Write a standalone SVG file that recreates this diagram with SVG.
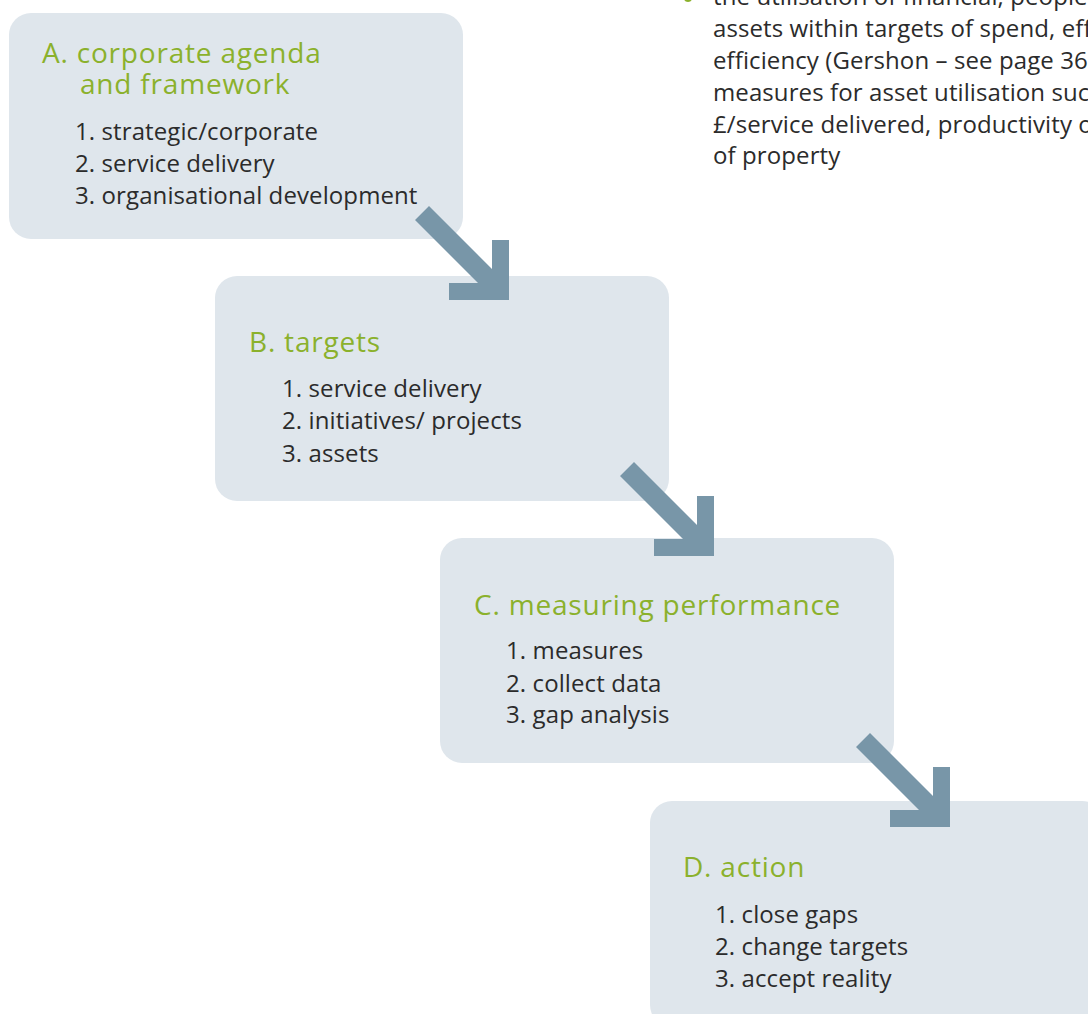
<svg xmlns="http://www.w3.org/2000/svg" xmlns:xlink="http://www.w3.org/1999/xlink" width="1088" height="1014" viewBox="0 0 1088 1014">
<style>
.box{fill:#dfe6ec}
.title{font-family:"Open Sans","Noto Sans",sans-serif;font-size:28px;letter-spacing:0.8px;fill:#8bb12c}
.item{font-family:"Open Sans","Noto Sans",sans-serif;font-size:24px;letter-spacing:0.1px;fill:#2b2b2b}
.arrow{fill:#7896a8}
</style>
<defs>
<path id="arr" d="M-80,-94 L-17,-31 L-17,-60 L0,-60 L0,0 L-60,0 L-60,-17 L-31,-17 L-94,-80 Z"/>
</defs>
<rect width="1088" height="1014" fill="#ffffff"/>
<g id="note">
<circle cx="688" cy="-2" r="4" fill="#8bb12c"/>
<text class="item"><tspan x="713" y="5">the utilisation of financial, people</tspan><tspan x="713" y="37">assets within targets of spend, effectiveness</tspan><tspan x="713" y="69">efficiency (Gershon – see page 36)</tspan><tspan x="713" y="101">measures for asset utilisation such</tspan><tspan x="713" y="133">£/service delivered, productivity of</tspan><tspan x="713" y="164">of property</tspan></text>
</g>
<g id="nodeA">
<rect class="box" x="9" y="13" width="454" height="226" rx="22"/>
<text class="title"><tspan x="42" y="63">A. corporate agenda</tspan><tspan x="80" y="94">and framework</tspan></text>
<text class="item"><tspan x="75" y="140">1. strategic/corporate</tspan><tspan x="75" y="172">2. service delivery</tspan><tspan x="75" y="204">3. organisational development</tspan></text>
</g>
<g id="nodeB">
<rect class="box" x="215" y="276" width="454" height="225" rx="22"/>
<text class="title" x="249" y="352">B. targets</text>
<text class="item"><tspan x="282" y="397">1. service delivery</tspan><tspan x="282" y="429">2. initiatives/ projects</tspan><tspan x="282" y="462">3. assets</tspan></text>
</g>
<g id="nodeC">
<rect class="box" x="440" y="538" width="454" height="225" rx="22"/>
<text class="title" x="474" y="615">C. measuring performance</text>
<text class="item"><tspan x="506" y="659">1. measures</tspan><tspan x="506" y="692">2. collect data</tspan><tspan x="506" y="723">3. gap analysis</tspan></text>
</g>
<g id="nodeD">
<rect class="box" x="650" y="801" width="454" height="226" rx="22"/>
<text class="title" x="683" y="877">D. action</text>
<text class="item"><tspan x="715" y="923">1. close gaps</tspan><tspan x="715" y="955">2. change targets</tspan><tspan x="715" y="987">3. accept reality</tspan></text>
</g>
<g id="connectors">
<use class="arrow" xlink:href="#arr" href="#arr" transform="translate(509,300)"/>
<use class="arrow" xlink:href="#arr" href="#arr" transform="translate(714,556)"/>
<use class="arrow" xlink:href="#arr" href="#arr" transform="translate(950,827)"/>
</g>
</svg>
